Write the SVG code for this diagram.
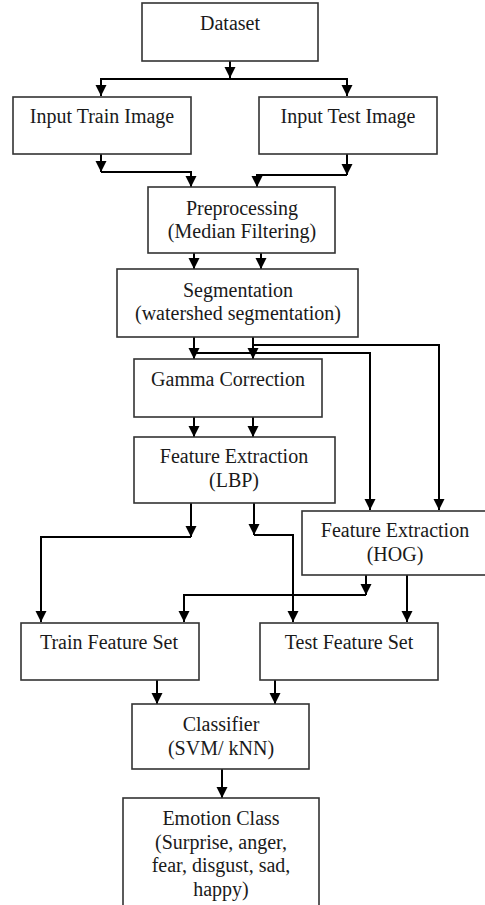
<svg xmlns="http://www.w3.org/2000/svg" width="485" height="905" viewBox="0 0 485 905">
<style>
.box{fill:#fff;stroke:#333;stroke-width:1.6}
.t{font-family:"Liberation Serif","Times New Roman",serif;font-size:20px;fill:#1a1a1a;text-anchor:middle}
.c{fill:none;stroke:#000;stroke-width:2;marker-end:url(#ah)}
.l{fill:none;stroke:#000;stroke-width:2}
</style>
<defs>
<marker id="ah" markerUnits="userSpaceOnUse" markerWidth="12" markerHeight="12" refX="11" refY="5.5" orient="auto">
<path d="M0,0 L11,5.5 L0,11 z" fill="#000"/>
</marker>
</defs>
<rect width="485" height="905" fill="#fff"/>
<g id="connectors">
<path class="c" d="M230,61 V78"/>
<path class="c" d="M230,79 H101 V96"/>
<path class="c" d="M230,79 H347 V96"/>
<path class="c" d="M101,154 V172"/>
<path class="c" d="M101,172 H191 V187"/>
<path class="c" d="M347,154 V175"/>
<path class="c" d="M347,175 H257 V187"/>
<path class="c" d="M194,253 V269"/>
<path class="c" d="M261,253 V269"/>
<path class="c" d="M194,337 V359"/>
<path class="c" d="M253,337 V359"/>
<path class="c" d="M194,353 H370 V510"/>
<path class="c" d="M253,345 H439 V510"/>
<path class="c" d="M194,417 V437"/>
<path class="c" d="M253,417 V437"/>
<path class="c" d="M191,503 V537"/>
<path class="c" d="M191,537 H41 V622"/>
<path class="c" d="M254,503 V535"/>
<path class="c" d="M254,535 H293 V622"/>
<path class="c" d="M366,575 V595"/>
<path class="c" d="M366,595 H184 V622"/>
<path class="c" d="M407,575 V622"/>
<path class="c" d="M157,680 V704"/>
<path class="c" d="M275,680 V704"/>
<path class="c" d="M222,769 V798"/>
</g>
<g id="dataset"><rect class="box" x="142" y="3" width="176" height="58"/><text class="t" x="230" y="30">Dataset</text></g>
<g id="input-train"><rect class="box" x="13" y="97" width="178" height="57"/><text class="t" x="102" y="123">Input Train Image</text></g>
<g id="input-test"><rect class="box" x="259" y="97" width="178" height="57"/><text class="t" x="348" y="123">Input Test Image</text></g>
<g id="preprocessing"><rect class="box" x="148" y="187" width="187" height="66"/><text class="t" x="242" y="215">Preprocessing</text><text class="t" x="242" y="238">(Median Filtering)</text></g>
<g id="segmentation"><rect class="box" x="117" y="269" width="241" height="68"/><text class="t" x="238" y="297">Segmentation</text><text class="t" x="238" y="320">(watershed segmentation)</text></g>
<g id="gamma"><rect class="box" x="134" y="359" width="188" height="58"/><text class="t" x="228" y="386">Gamma Correction</text></g>
<g id="lbp"><rect class="box" x="134" y="437" width="201" height="66"/><text class="t" x="234" y="463">Feature Extraction</text><text class="t" x="234" y="487">(LBP)</text></g>
<g id="hog"><rect class="box" x="302" y="511" width="190" height="64"/><text class="t" x="395" y="537">Feature Extraction</text><text class="t" x="395" y="561">(HOG)</text></g>
<g id="train-fs"><rect class="box" x="21" y="623" width="178" height="57"/><text class="t" x="109" y="649">Train Feature Set</text></g>
<g id="test-fs"><rect class="box" x="260" y="623" width="178" height="57"/><text class="t" x="349" y="649">Test Feature Set</text></g>
<g id="classifier"><rect class="box" x="132" y="704" width="177" height="65"/><text class="t" x="221" y="731">Classifier</text><text class="t" x="221" y="755">(SVM/ kNN)</text></g>
<g id="emotion"><rect class="box" x="123" y="798" width="196" height="120"/><text class="t" x="221" y="825">Emotion Class</text><text class="t" x="221" y="849">(Surprise, anger,</text><text class="t" x="221" y="872">fear, disgust, sad,</text><text class="t" x="221" y="896">happy)</text></g>
</svg>
